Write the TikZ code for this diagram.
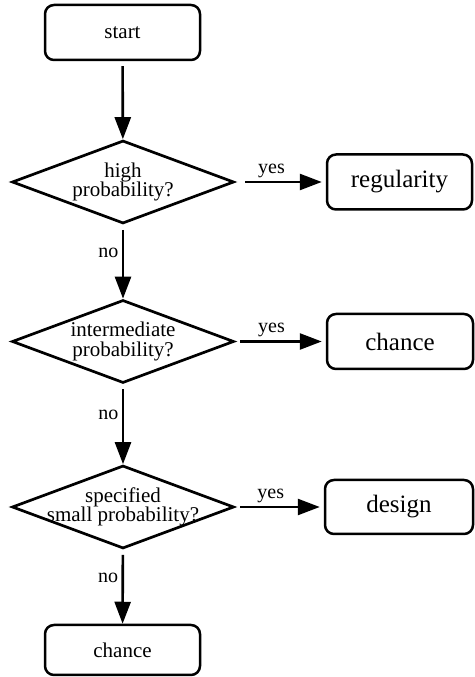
\documentclass[tikz,border=0pt]{standalone}
\usepackage{fontspec}
\setmainfont{Liberation Serif}
\usetikzlibrary{shapes.geometric,arrows.meta}
\begin{document}
\begin{tikzpicture}[x=1pt,y=1pt,
    box/.style={draw, line width=2.5pt, rounded corners=9pt, minimum height=55pt, inner sep=0pt},
    query/.style={draw, diamond, line width=2.7pt, minimum width=222pt, minimum height=83pt, inner sep=0pt},
    qtext/.style={align=center, font=\fontsize{21}{19.5}\selectfont},
    flow/.style={line width=2.6pt, -{Triangle[length=22pt,width=16pt]}},
    lbl/.style={font=\fontsize{20}{20}\selectfont}]

      \useasboundingbox (0,0) rectangle (474,677);

      % main column
      \node[box, minimum width=155pt, font=\fontsize{21}{21}\selectfont] (start) at (122.5,644.5) {start};
      \node[query] (high) at (123,495) {};
      \node[qtext] (hightext) at (high) {high\\probability?};
      \node[query] (inter) at (123,335.5) {};
      \node[qtext] (intertext) at (inter) {intermediate\\probability?};
      \node[query] (spec) at (123,170) {};
      \node[qtext] (spectext) at (spec) {specified\\small probability?};
      \node[box, minimum width=155pt, minimum height=50pt, font=\fontsize{21}{21}\selectfont] (lastchance) at (122.5,27) {chance};

      % outcomes
      \node[box, minimum width=145pt, font=\fontsize{25}{25}\selectfont] (regularity) at (399.5,495) {regularity};
      \node[box, minimum width=146pt, font=\fontsize{25}{25}\selectfont] (chance) at (400,335.5) {chance};
      \node[box, minimum width=148pt, minimum height=54pt, font=\fontsize{25}{25}\selectfont] (design) at (399,170) {design};

      \draw[flow, shorten <=5pt] (start) -- (high);
      \draw[flow, shorten <=5pt] (high) -- node[left, lbl, pos=0.38] {no} (inter);
      \draw[flow, shorten <=5pt] (inter) -- node[left, lbl, pos=0.38] {no} (spec);
      \draw[flow, shorten <=5pt] (spec) -- node[left, lbl, pos=0.38] {no} (lastchance);

      \draw[flow, shorten <=10pt, shorten >=4pt] (high) -- node[above, lbl, pos=0.4] {yes} (regularity);
      \draw[flow, shorten <=5pt, shorten >=4pt] (inter) -- node[above, lbl, pos=0.4] {yes} (chance);
      \draw[flow, shorten <=5pt, shorten >=4pt] (spec) -- node[above, lbl, pos=0.4] {yes} (design);

\end{tikzpicture}
\end{document}
